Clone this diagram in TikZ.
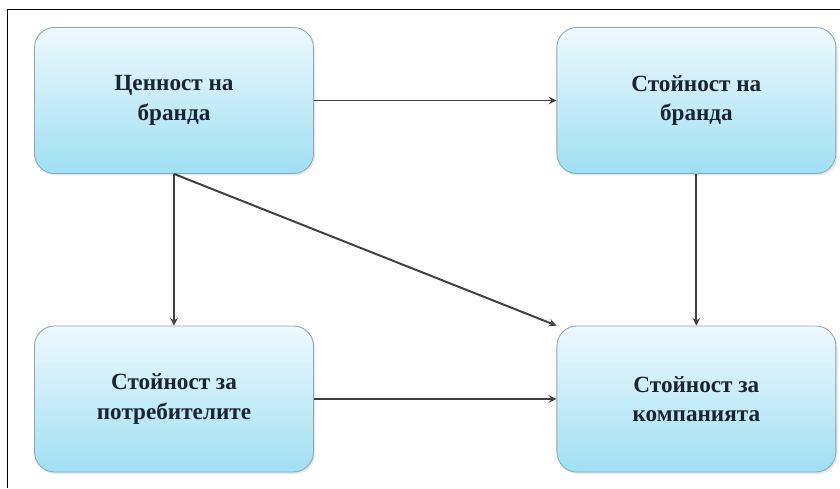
\documentclass[tikz,border=0pt]{standalone}
\usepackage{fontspec}
\setmainfont{Liberation Serif}
\usetikzlibrary{shadows}
\definecolor{kvtop}{HTML}{EDF9FD}
\definecolor{kvbot}{HTML}{A0DFF3}
\definecolor{kvvien}{HTML}{8FA7AE}
\definecolor{kvchu}{HTML}{18242F}
\definecolor{muiten}{HTML}{404040}
\begin{document}
\begin{tikzpicture}
\def\dx{13.06}
\def\dy{7.4625}
\tikzset{kv/.style={draw=kvvien,line width=0.6pt,rounded corners=0.5cm,minimum width=6.975cm,minimum height=3.65cm,top color=kvtop,bottom color=kvbot,align=center,text=kvchu,font=\bfseries\fontsize{16.5}{21}\selectfont,drop shadow={opacity=0.2,shadow xshift=0.04cm,shadow yshift=-0.05cm}}}
\useasboundingbox(0,0)rectangle(21,12.2);
%%Khung
\draw[line width=0.7pt](21,11.975)--(0.175,11.975)--(0.175,0);
\path(4.35,9.6875)node[kv](CB){Ценност на\\бранда}++(\dx,0)node[kv](SB){Стойност на\\бранда};
\path(CB)++(0,-\dy)node[kv](SP){Стойност за\\потребителите}++(\dx,0)node[kv](SK){Стойност за\\компанията};
\foreach \x/\y in {
CB.east/SB.west,
CB.south/SP.north,
CB.south/SK.north west,
SB.south/SK.north,
SP.east/SK.west}
\draw[-stealth,draw=muiten,line width=1.4pt](\x)--(\y);
\end{tikzpicture}
\end{document}
